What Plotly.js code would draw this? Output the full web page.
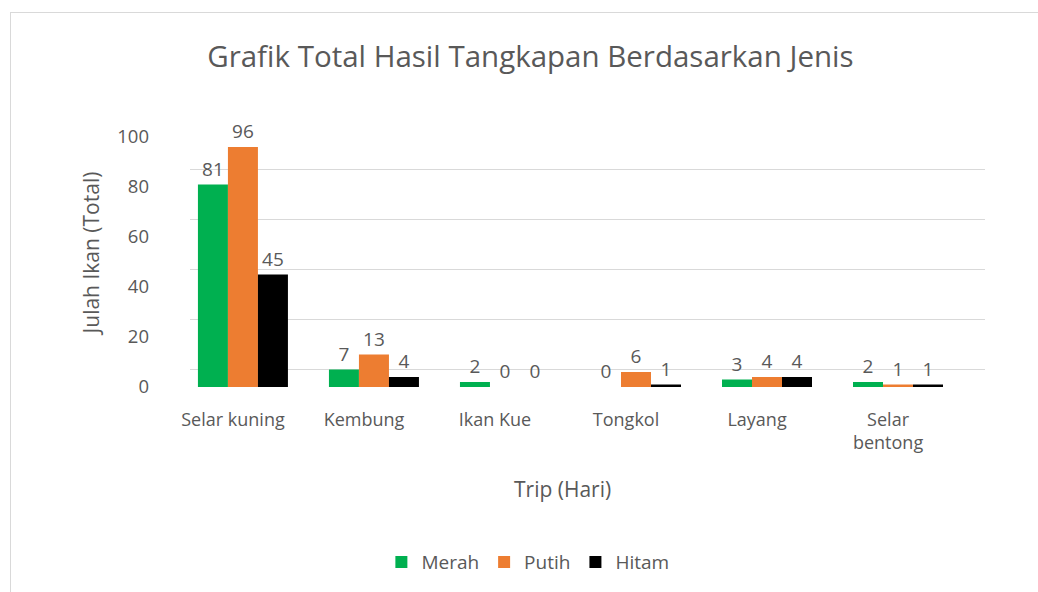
<!DOCTYPE html>
<html>
<head>
<meta charset="utf-8">
<script src="https://cdn.plot.ly/plotly-3.0.1.min.js"></script>
<style>
  html, body { margin: 0; padding: 0; background: #ffffff; }
  #wrap { position: relative; width: 1038px; height: 592px; overflow: hidden; }
  #frame { position: absolute; left: 10px; top: 12px; width: 1100px; height: 700px;
           border: 1px solid #d9d9d9; pointer-events: none; }
  #chart { position: absolute; left: 0; top: 0; width: 1038px; height: 592px; }
</style>
</head>
<body>
<div id="wrap">
  <div id="chart"></div>
  <div id="frame"></div>
</div>
<script>
const categories = ["Selar kuning", "Kembung", "Ikan Kue", "Tongkol", "Layang", "Selar<br>bentong"];
const merah = [81, 7, 2, 0, 3, 2];
const putih = [96, 13, 0, 6, 4, 1];
const hitam = [45, 4, 0, 1, 4, 1];
const yTicks = [0, 20, 40, 60, 80, 100];

const FONT = "Open Sans, sans-serif";
const GRAY = "#595959";
const BAR_W = 0.229;
const BAR_SHIFT = 0.076;

function series(name, vals, color, idx) {
  return {
    type: "bar", name: name, x: categories, y: vals,
    width: BAR_W, offset: -1.5 * BAR_W + BAR_SHIFT + idx * BAR_W,
    marker: { color: color },
    text: vals.map(String), textposition: "outside", cliponaxis: false,
    textfont: { family: FONT, size: 19, color: GRAY },
    hoverinfo: "x+y+name"
  };
}

const data = [
  series("Merah", merah, "#00B050", 0),
  series("Putih", putih, "#ED7D31", 1),
  series("Hitam", hitam, "#000000", 2),
  // invisible trace on the back-wall axis to carry its gridlines
  { type: "scatter", x: [categories[0]], y: [0], yaxis: "y2", mode: "markers",
    marker: { opacity: 0 }, showlegend: false, hoverinfo: "skip" }
];

const layout = {
  width: 1038, height: 592,
  paper_bgcolor: "rgba(0,0,0,0)", plot_bgcolor: "rgba(0,0,0,0)",
  margin: { l: 190, r: 53, t: 118, b: 204 },
  font: { family: FONT, color: GRAY },
  title: { text: "Grafik Total Hasil Tangkapan Berdasarkan Jenis",
           font: { family: FONT, size: 29.5, color: GRAY },
           x: 0.511, xanchor: "center", y: 0.905, yanchor: "middle" },
  barmode: "overlay",
  xaxis: {
    type: "category", range: [-0.328, 5.74],
    tickfont: { family: FONT, size: 18, color: GRAY },
    showgrid: false, zeroline: false, showline: false, ticks: "",
    ticklabelstandoff: 20
  },
  yaxis: {
    range: [0, 107.6], tickvals: yTicks, ticktext: yTicks.map(String),
    showgrid: false, zeroline: false, showline: false, ticks: "",
    tickfont: { family: FONT, size: 18.5, color: GRAY },
    ticklabelstandoff: 40,
    title: { text: "Julah Ikan (Total)", font: { family: FONT, size: 21, color: GRAY }, standoff: 11 }
  },
  yaxis2: {
    overlaying: "y", range: [-7.2, 100.4], tickvals: yTicks,
    showticklabels: false, showgrid: true, gridcolor: "#d9d9d9", gridwidth: 1,
    zeroline: false, showline: false, ticks: ""
  },
  annotations: [{
    text: "Trip (Hari)", xref: "paper", yref: "paper", x: 0.469, y: -0.378,
    xanchor: "center", yanchor: "middle", showarrow: false,
    font: { family: FONT, size: 21, color: GRAY }
  }],
  legend: {
    orientation: "h", x: 0.425, xanchor: "center", y: -0.645, yanchor: "middle",
    font: { family: FONT, size: 19, color: GRAY }, itemwidth: 30, traceorder: "normal"
  }
};

Plotly.newPlot("chart", data, layout, { displayModeBar: false, staticPlot: true });
</script>
</body>
</html>
